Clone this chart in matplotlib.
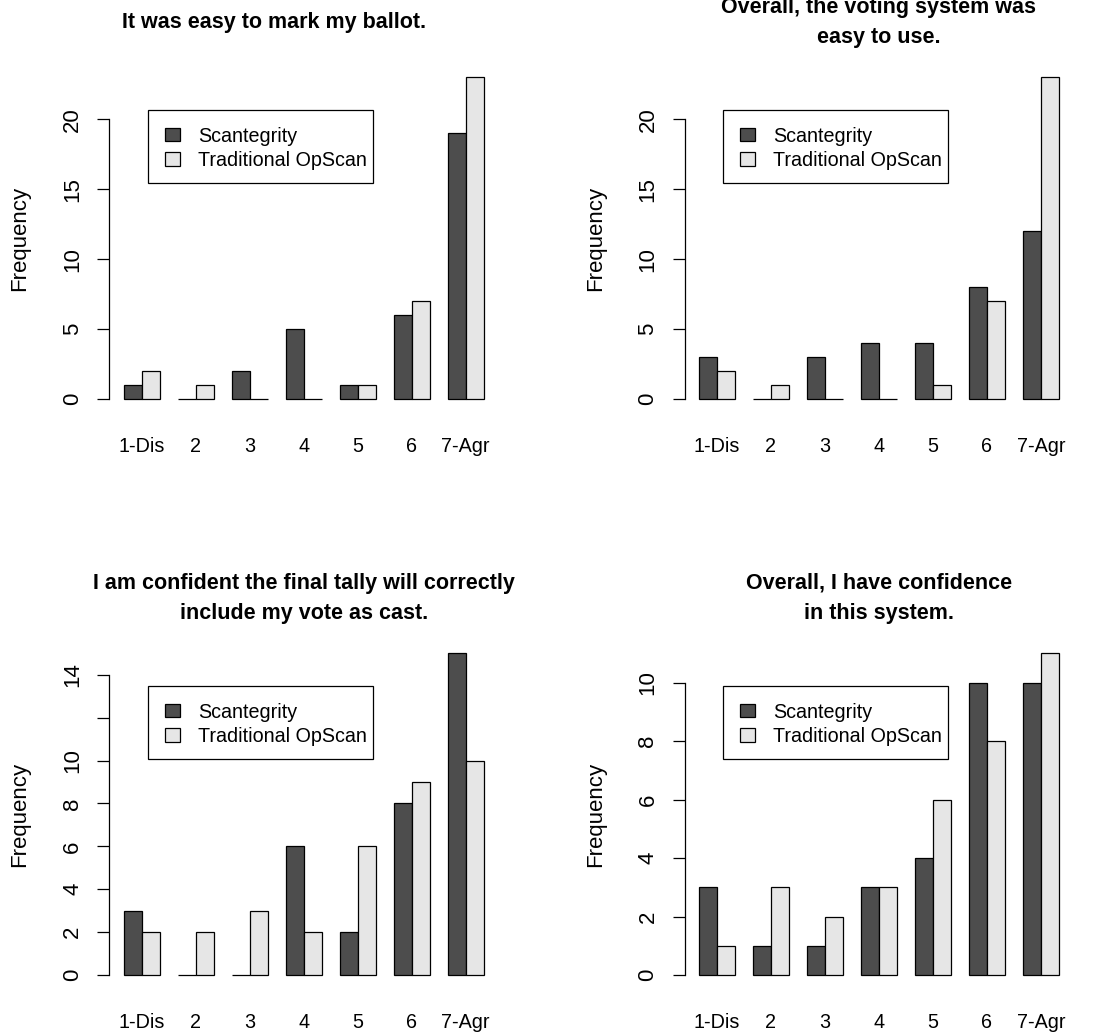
import matplotlib
matplotlib.use("Agg")
import matplotlib.pyplot as plt
from matplotlib.patches import Rectangle

# Response categories (7-point agreement scale)
categories = ["1-Dis", "2", "3", "4", "5", "6", "7-Agr"]
series_names = ["Scantegrity", "Traditional OpScan"]

titles = [
    "It was easy to mark my ballot.",
    "Overall, the voting system was\neasy to use.",
    "I am confident the final tally will correctly\ninclude my vote as cast.",
    "Overall, I have confidence\nin this system.",
]

easy_mark_scantegrity = [1, 0, 2, 5, 1, 6, 19]
easy_mark_opscan = [2, 1, 0, 0, 1, 7, 23]

easy_use_scantegrity = [3, 0, 3, 4, 4, 8, 12]
easy_use_opscan = [2, 1, 0, 0, 1, 7, 23]

tally_scantegrity = [3, 0, 0, 6, 2, 8, 15]
tally_opscan = [2, 2, 3, 2, 6, 9, 10]

confidence_scantegrity = [3, 1, 1, 3, 4, 10, 10]
confidence_opscan = [1, 3, 2, 3, 6, 8, 11]

yticks_easy = [0, 5, 10, 15, 20]
yticks_tally = [0, 2, 4, 6, 8, 10, 12, 14]
ytick_labels_tally = ["0", "2", "4", "6", "8", "10", "", "14"]
yticks_conf = [0, 2, 4, 6, 8, 10]

panels = [
    (titles[0], easy_mark_scantegrity, easy_mark_opscan, yticks_easy, None),
    (titles[1], easy_use_scantegrity, easy_use_opscan, yticks_easy, None),
    (titles[2], tally_scantegrity, tally_opscan, yticks_tally, ytick_labels_tally),
    (titles[3], confidence_scantegrity, confidence_opscan, yticks_conf, None),
]

DARK = "#4d4d4d"
LIGHT = "#e6e6e6"
LW = 0.9

plt.rcParams["font.family"] = ["Liberation Sans", "DejaVu Sans"]
FS_H = 14.2     # horizontal text
FS_V = 16.0     # vertical (rotated) text
FS_TITLE = 15.5

W, H = 1099, 1034
fig = plt.figure(figsize=(W / 100, H / 100), dpi=100)
fig.patch.set_facecolor("white")

AX_W, AX_H = 388.8, 347.5
origins = [(109.3, 64.4), (684.5, 64.4), (109.3, 640.4), (684.5, 640.4)]
title_x = [0.4236, 0.5, 0.5, 0.5]


def px_x(p):
    return p / AX_W


def px_y(p):
    return p / AX_H


for i, (title, scan, opscan, yt, ytl) in enumerate(panels):
    left, top = origins[i]
    ax = fig.add_axes([left / W, 1 - (top + AX_H) / H, AX_W / W, AX_H / H])

    n = len(categories)
    x_dark = [1 + 3 * g for g in range(n)]
    x_light = [2 + 3 * g for g in range(n)]
    centers = [2 + 3 * g for g in range(n)]

    ax.bar(x_dark, scan, width=1, align="edge", color=DARK,
           edgecolor="black", linewidth=LW)
    ax.bar(x_light, opscan, width=1, align="edge", color=LIGHT,
           edgecolor="black", linewidth=LW)

    ymax = max(max(scan), max(opscan))
    ax.set_xlim(0.2, 21.8)
    ax.set_ylim(-0.04 * ymax, 1.04 * ymax)

    for s in ("top", "right", "bottom"):
        ax.spines[s].set_visible(False)
    ax.spines["left"].set_bounds(yt[0], yt[-1])
    ax.spines["left"].set_linewidth(LW)
    ax.set_xticks([])
    ax.set_yticks(yt)
    ax.tick_params(axis="y", length=8.9, width=LW, labelleft=False)

    labels = ytl if ytl is not None else [str(v) for v in yt]
    ytrans = matplotlib.transforms.blended_transform_factory(ax.transAxes, ax.transData)
    for v, lab in zip(yt, labels):
        ax.text(-px_x(31), v, lab, transform=ytrans, rotation=90,
                rotation_mode="anchor", ha="center", va="baseline", fontsize=FS_V)

    xtrans = matplotlib.transforms.blended_transform_factory(ax.transData, ax.transAxes)
    for c, lab in zip(centers, categories):
        ax.text(c, -px_y(39.8), lab, transform=xtrans, ha="center",
                va="baseline", fontsize=FS_H)

    ax.text(-px_x(83.7), 0.5, "Frequency", transform=ax.transAxes, rotation=90,
            rotation_mode="anchor", ha="center", va="baseline", fontsize=FS_V)

    ax.text(title_x[i], 1 + px_y(42.2), title, transform=ax.transAxes,
            ha="center", va="center", multialignment="center",
            fontsize=FS_TITLE, fontweight="bold", linespacing=1.55)

    # Legend box
    bx0, bx1 = px_x(38.4), px_x(263.4)
    by_top, by_bot = 1 - px_y(45.6), 1 - px_y(118.9)
    ax.add_patch(Rectangle((bx0, by_bot), bx1 - bx0, by_top - by_bot,
                           transform=ax.transAxes, facecolor="white",
                           edgecolor="black", linewidth=LW, zorder=5))
    sq_top = [63.3, 88.0]
    baselines = [77.3, 101.6]
    for k, (name, col) in enumerate(zip(series_names, [DARK, LIGHT])):
        ax.add_patch(Rectangle((px_x(55.7), 1 - px_y(sq_top[k] + 13.5)),
                               px_x(15), px_y(13.5), transform=ax.transAxes,
                               facecolor=col, edgecolor="black", linewidth=LW,
                               zorder=6))
        ax.text(px_x(88.4), 1 - px_y(baselines[k]), name, transform=ax.transAxes,
                ha="left", va="baseline", fontsize=FS_H, zorder=6)

fig.savefig("out.png", dpi=100, facecolor="white")
